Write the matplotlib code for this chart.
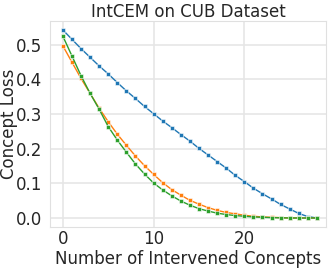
import matplotlib
matplotlib.use("Agg")
import matplotlib.pyplot as plt
import seaborn as sns
import numpy as np

sns.set_style("whitegrid")
plt.rcParams['font.family'] = ['DejaVu Sans']

n_concepts = list(range(29))

blue = [0.543, 0.516, 0.489, 0.464, 0.439, 0.416, 0.391, 0.367, 0.345, 0.322,
        0.301, 0.280, 0.261, 0.241, 0.222, 0.201, 0.182, 0.163, 0.144, 0.123,
        0.105, 0.086, 0.070, 0.055, 0.039, 0.026, 0.013, 0.004, 0.0]
orange = [0.497, 0.450, 0.403, 0.360, 0.317, 0.278, 0.242, 0.210, 0.179, 0.151,
          0.126, 0.102, 0.082, 0.066, 0.051, 0.040, 0.030, 0.022, 0.016, 0.012,
          0.008, 0.005, 0.003, 0.002, 0.001, 0.0, 0.0, 0.0, 0.0]
green = [0.525, 0.468, 0.411, 0.360, 0.314, 0.264, 0.225, 0.190, 0.156, 0.127,
         0.101, 0.081, 0.064, 0.049, 0.037, 0.027, 0.020, 0.014, 0.010, 0.007,
         0.005, 0.003, 0.002, 0.001, 0.0005, 0.0, 0.0, 0.0, 0.0]

colors = ['#1f77b4', '#ff7f0e', '#2ca02c']

fig = plt.figure(figsize=(3.32, 2.68), dpi=100)
ax = fig.add_axes([0.151, 0.153, 0.831, 0.769])

for ys, c in zip([blue, orange, green], colors):
    ax.plot(n_concepts, ys, color=c, lw=1, marker='s', markersize=3.5,
            markeredgecolor='white', markeredgewidth=0.4)

ax.grid(color='#e6e6e6', lw=1.2)
for sp in ax.spines.values():
    sp.set_color('#e0e0e0')

ax.set_title("IntCEM on CUB Dataset", fontsize=12, pad=3)
ax.set_xlabel("Number of Intervened Concepts", fontsize=12)
ax.set_ylabel("Concept Loss", fontsize=12)
ax.xaxis.set_label_coords(0.5, -0.11)
ax.yaxis.set_label_coords(-0.115, 0.5)
ax.tick_params(labelsize=12)
ax.tick_params(axis='x', pad=-1.5)
ax.tick_params(axis='y', pad=2)
ax.set_xlim(-1.4, 29.0)
ax.set_ylim(-0.026, 0.569)
ax.set_xticks([0, 10, 20])
ax.set_yticks([0.0, 0.1, 0.2, 0.3, 0.4, 0.5])

fig.savefig("out.png", dpi=100)
